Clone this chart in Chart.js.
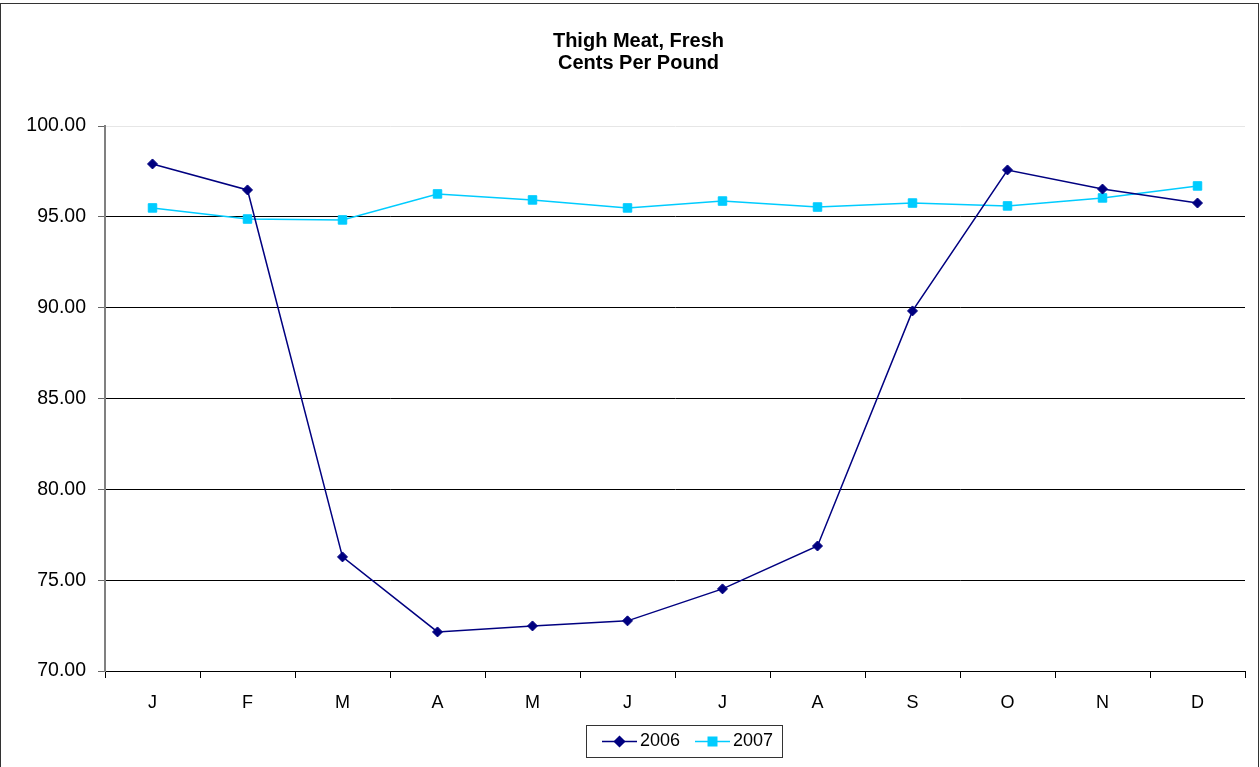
<!DOCTYPE html>
<html>
<head>
<meta charset="utf-8">
<script src="https://cdn.jsdelivr.net/npm/chart.js@4/dist/chart.umd.min.js"></script>
<style>
  html, body { margin: 0; padding: 0; background: #fff; }
  #wrap { width: 1260px; height: 767px; }
</style>
</head>
<body>
<div id="wrap"><canvas id="c" width="1260" height="767"></canvas></div>
<script>
const months = ['J','F','M','A','M','J','J','A','S','O','N','D'];
const series2006 = [97.91, 96.48, 76.28, 72.15, 72.48, 72.76, 74.52, 76.88, 89.82, 97.58, 96.53, 95.76];
const series2007 = [95.49, 94.88, 94.83, 96.26, 95.93, 95.49, 95.87, 95.54, 95.76, 95.60, 96.04, 96.70];
const titleLines = ['Thigh Meat, Fresh', 'Cents Per Pound'];
const yMin = 70, yMax = 100, yStep = 5;

const FONT = 'Arial, "Liberation Sans", sans-serif';

const framePlugin = {
  id: 'frame',
  afterLayout(chart) {
    if (chart.titleBlock) { chart.titleBlock.left = 32; }
  },
  afterDraw(chart) {
    const ctx = chart.ctx;
    ctx.save();
    ctx.strokeStyle = '#333';
    ctx.lineWidth = 1;
    ctx.strokeRect(0.5, 3.5, 1258, 770);
    ctx.restore();
  }
};

const legendPlugin = {
  id: 'boxLegend',
  afterDraw(chart) {
    const ctx = chart.ctx;
    const x0 = 586, y0 = 725, w = 196, h = 32;
    ctx.save();
    ctx.strokeStyle = '#333';
    ctx.lineWidth = 1;
    ctx.strokeRect(x0 + 0.5, y0 + 0.5, w, h);
    const cy = y0 + h / 2 + 0.5;
    let x = x0 + 16;
    chart.data.datasets.forEach((ds) => {
      ctx.strokeStyle = ds.borderColor;
      ctx.lineWidth = 1.5;
      ctx.beginPath();
      ctx.moveTo(x, cy);
      ctx.lineTo(x + 35, cy);
      ctx.stroke();
      Chart.helpers.drawPoint(ctx, {
        pointStyle: ds.pointStyle,
        radius: ds.pointRadius,
        borderWidth: 1
      }, x + 17.5, cy);
      ctx.fillStyle = ds.pointBackgroundColor;
      ctx.strokeStyle = ds.pointBorderColor;
      ctx.fill();
      ctx.fillStyle = '#000';
      ctx.font = '18px ' + FONT;
      ctx.textBaseline = 'middle';
      ctx.textAlign = 'left';
      ctx.fillText(ds.label, x + 38, cy);
      x += 93;
    });
    ctx.restore();
  }
};

new Chart(document.getElementById('c'), {
  type: 'line',
  data: {
    labels: months,
    datasets: [
      {
        label: '2006',
        data: series2006,
        borderColor: '#000080',
        backgroundColor: '#000080',
        pointBackgroundColor: '#000080',
        pointBorderColor: '#000080',
        borderWidth: 1.5,
        pointStyle: 'rectRot',
        pointRadius: 5,
        pointBorderWidth: 1,
        tension: 0
      },
      {
        label: '2007',
        data: series2007,
        borderColor: '#00CCFF',
        backgroundColor: '#00CCFF',
        pointBackgroundColor: '#00CCFF',
        pointBorderColor: '#00CCFF',
        borderWidth: 1.5,
        pointStyle: 'rect',
        pointRadius: 6,
        pointBorderWidth: 1,
        tension: 0
      }
    ]
  },
  options: {
    responsive: false,
    animation: false,
    layout: { padding: { top: 0, right: 15, bottom: 0, left: 0 } },
    plugins: {
      legend: { display: false },
      tooltip: { enabled: false },
      title: {
        display: true,
        text: titleLines,
        color: '#000',
        font: { family: FONT, size: 20, weight: 'bold', lineHeight: 1.1 },
        padding: { top: 30, bottom: 52 }
      }
    },
    scales: {
      x: {
        offset: true,
        grid: {
          offset: true,
          drawOnChartArea: false,
          drawTicks: true,
          tickLength: 7,
          color: '#000'
        },
        border: { color: '#000', width: 1 },
        ticks: {
          color: '#000',
          font: { family: FONT, size: 18 },
          padding: 14,
          maxRotation: 0,
          autoSkip: false
        },
        afterFit(scale) { scale.height = 96; }
      },
      y: {
        min: yMin,
        max: yMax,
        ticks: {
          stepSize: yStep,
          color: '#000',
          font: { family: FONT, size: 19.5 },
          padding: 12,
          callback: (v) => Number(v).toFixed(2)
        },
        grid: {
          color: (c) => (c.tick && c.tick.value === yMax) ? '#e6e6e6' : '#000',
          tickColor: '#666',
          tickLength: 7,
          lineWidth: 1
        },
        border: { color: '#808080', width: 2 },
        afterFit(scale) { scale.width = 105; }
      }
    }
  },
  plugins: [framePlugin, legendPlugin]
});
</script>
</body>
</html>
